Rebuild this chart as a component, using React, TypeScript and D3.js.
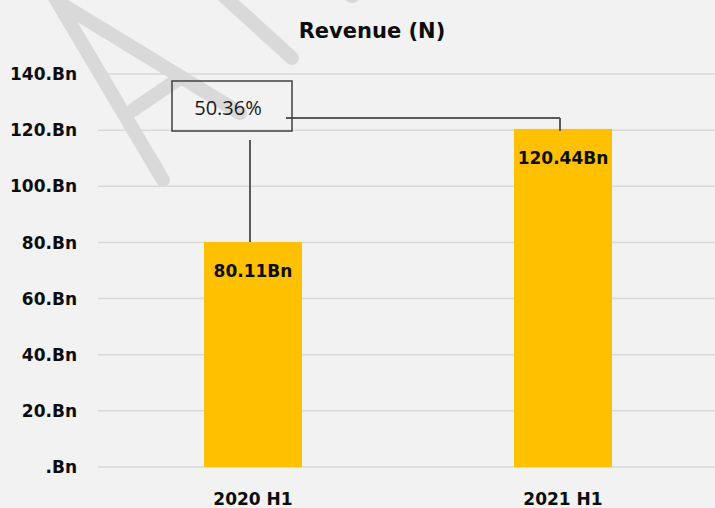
import React, { useEffect, useRef } from 'react';
import * as d3 from 'd3';

// chart data
const categories: string[] = ['2020 H1', '2021 H1'];
const revenue: number[] = [80.11, 120.44];
const valueLabels: string[] = ['80.11Bn', '120.44Bn'];
const yTicks: number[] = [0, 20, 40, 60, 80, 100, 120, 140];
const yTickLabels: string[] = ['.Bn', '20.Bn', '40.Bn', '60.Bn', '80.Bn', '100.Bn', '120.Bn', '140.Bn'];
const growthLabel = '50.36%';
const title = 'Revenue (N)';

const App = () => {
  const svgRef = useRef<SVGSVGElement>(null);

  useEffect(() => {
    const width = 715;
    const height = 508;
    const boldFont = "'DejaVu Sans', sans-serif";

    const svg = d3.select(svgRef.current)
      .attr('width', width)
      .attr('height', height);
    svg.selectAll('*').remove();

    svg.append('rect')
      .attr('width', width)
      .attr('height', height)
      .attr('fill', '#f2f2f2');

    const x = d3.scaleBand<string>()
      .domain(categories)
      .range([98, 718])
      .paddingInner(0.684)
      .paddingOuter(0.342);

    const y = d3.scaleLinear()
      .domain([0, 140])
      .range([467, 74]);

    // gridlines
    svg.append('g')
      .selectAll('line')
      .data(yTicks)
      .enter().append('line')
      .attr('x1', 98)
      .attr('x2', width)
      .attr('y1', d => y(d))
      .attr('y2', d => y(d))
      .attr('stroke', '#d9d9d9')
      .attr('stroke-width', 1.5);

    // y labels
    svg.append('g')
      .selectAll('text')
      .data(yTicks)
      .enter().append('text')
      .attr('x', 77)
      .attr('y', d => y(d))
      .attr('dy', '0.36em')
      .attr('text-anchor', 'end')
      .attr('font-family', boldFont)
      .attr('font-weight', 'bold')
      .attr('font-size', 17)
      .attr('fill', '#0d0d0d')
      .text((d, i) => yTickLabels[i]);

    // watermark strokes
    const wm = svg.append('g')
      .attr('stroke', '#d9d9d9')
      .attr('stroke-width', 14)
      .attr('stroke-linecap', 'round')
      .attr('fill', 'none');
    const strokes: [number, number, number, number][] = [
      [54, -4, 163, 180],
      [58, 2, 240, 113],
      [133, 110, 180, 78],
      [215, -12, 292, 58]
    ];
    wm.selectAll('line')
      .data(strokes)
      .enter().append('line')
      .attr('x1', d => d[0])
      .attr('y1', d => d[1])
      .attr('x2', d => d[2])
      .attr('y2', d => d[3]);
    wm.append('circle')
      .attr('cx', 352)
      .attr('cy', -5)
      .attr('r', 8)
      .attr('fill', '#d9d9d9')
      .attr('stroke', 'none');

    // bars
    svg.append('g')
      .selectAll('rect')
      .data(revenue)
      .enter().append('rect')
      .attr('x', (d, i) => x(categories[i]) as number)
      .attr('y', d => y(d))
      .attr('width', x.bandwidth())
      .attr('height', d => y(0) - y(d))
      .attr('fill', '#ffc000');

    // value labels
    svg.append('g')
      .selectAll('text')
      .data(revenue)
      .enter().append('text')
      .attr('x', (d, i) => (x(categories[i]) as number) + x.bandwidth() / 2)
      .attr('y', d => y(d) + 35)
      .attr('text-anchor', 'middle')
      .attr('font-family', boldFont)
      .attr('font-weight', 'bold')
      .attr('font-size', 17)
      .attr('fill', '#0d0d0d')
      .text((d, i) => valueLabels[i]);

    // category labels
    svg.append('g')
      .selectAll('text')
      .data(categories)
      .enter().append('text')
      .attr('x', d => (x(d) as number) + x.bandwidth() / 2)
      .attr('y', 505)
      .attr('text-anchor', 'middle')
      .attr('font-family', boldFont)
      .attr('font-weight', 'bold')
      .attr('font-size', 17)
      .attr('fill', '#0d0d0d')
      .text(d => d);

    // title
    svg.append('text')
      .attr('x', 372)
      .attr('y', 38)
      .attr('text-anchor', 'middle')
      .attr('font-family', boldFont)
      .attr('font-weight', 'bold')
      .attr('font-size', 21)
      .attr('fill', '#0d0d0d')
      .text(title);

    // growth annotation
    const c0 = (x(categories[0]) as number) + x.bandwidth() / 2 - 3;
    const c1 = (x(categories[1]) as number) + x.bandwidth() / 2 - 3;
    const lineY = y(124.3);
    const ann = svg.append('g')
      .attr('stroke', '#595959')
      .attr('stroke-width', 2)
      .attr('fill', 'none');
    ann.append('line')
      .attr('x1', c0).attr('x2', c0)
      .attr('y1', y(116.5)).attr('y2', y(revenue[0]));
    ann.append('line')
      .attr('x1', 286).attr('x2', c1)
      .attr('y1', lineY).attr('y2', lineY);
    ann.append('line')
      .attr('x1', c1).attr('x2', c1)
      .attr('y1', lineY).attr('y2', y(revenue[1]) + 2);
    ann.append('rect')
      .attr('x', 172)
      .attr('y', 81)
      .attr('width', 120)
      .attr('height', 50)
      .attr('stroke', '#404040')
      .attr('stroke-width', 1.5);

    svg.append('text')
      .attr('x', 228)
      .attr('y', 108)
      .attr('dy', '0.36em')
      .attr('text-anchor', 'middle')
      .attr('font-family', "'Open Sans', sans-serif")
      .attr('font-size', 20)
      .attr('fill', '#1a1a1a')
      .text(growthLabel);
  }, []);

  return (
    <svg ref={svgRef} style={{ position: 'absolute', left: 0, top: 0 }}></svg>
  );
};

export default App;
